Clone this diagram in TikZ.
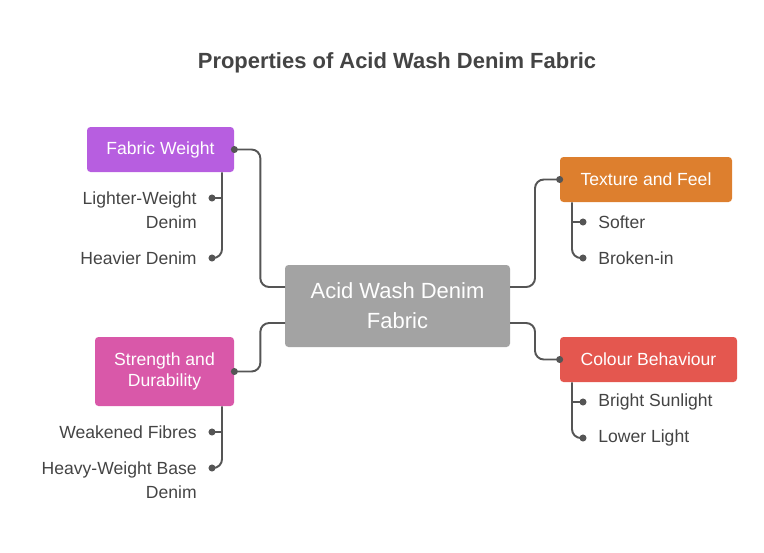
\documentclass[tikz,border=0pt]{standalone}
\usepackage{fontspec}
\setmainfont{Liberation Sans}
\usetikzlibrary{positioning, calc}

\definecolor{txtgray}{HTML}{444444}
\definecolor{linegray}{HTML}{555555}
\definecolor{hubgray}{HTML}{A3A3A3}
\definecolor{weightpurple}{HTML}{B75EE0}
\definecolor{strengthpink}{HTML}{D958A9}
\definecolor{textureorange}{HTML}{DD7F2E}
\definecolor{colourred}{HTML}{E4574F}

\tikzset{
  topic/.style={rounded corners=2pt, text=white, font=\fontsize{10}{12}\selectfont, align=center, inner sep=0pt},
  item/.style={text=txtgray, font=\fontsize{10}{13.5}\selectfont, inner sep=0pt},
  link/.style={draw=linegray, line width=1.1pt, rounded corners=5pt},
  dot/.style={circle, fill=linegray, inner sep=0pt, minimum size=4pt}
}

\begin{document}
\begin{tikzpicture}[x=0.02cm, y=-0.02cm]
\useasboundingbox (0,0) rectangle (764,552);

\node[text=txtgray, font=\bfseries\fontsize{12.5}{15}\selectfont] (title) at (397,63) {Properties of Acid Wash Denim Fabric};

% hub
\node[topic, fill=hubgray, minimum width=225\pgflinewidth, font=\fontsize{12.5}{17}\selectfont] (hub) at (397.5,306) {};
\fill[hubgray, rounded corners=2pt] (285,265) rectangle (510,347);
\node[text=white, font=\fontsize{12.5}{17}\selectfont, align=center] (hubtxt) at (397.5,306) {Acid Wash Denim\\Fabric};
\coordinate (hubW) at (285,306);
\coordinate (hubE) at (510,306);

% topics
\node[topic, fill=weightpurple, minimum width=147*0.02cm, minimum height=45*0.02cm] (weight) at (160.5,149.5) {Fabric Weight};
\node[topic, fill=strengthpink, minimum width=139*0.02cm, minimum height=69*0.02cm] (strength) at (164.5,371.5) {Strength and\\Durability};
\node[topic, fill=textureorange, minimum width=172*0.02cm, minimum height=45*0.02cm] (texture) at (646,179.5) {Texture and Feel};
\node[topic, fill=colourred, minimum width=177*0.02cm, minimum height=45*0.02cm] (colour) at (648.5,359.5) {Colour Behaviour};

% items
\node[item, anchor=east, align=right] (light) at (197,210) {Lighter-Weight\\Denim};
\node[item, anchor=east] (heavy) at (197,258) {Heavier Denim};
\node[item, anchor=east] (weak) at (197,432) {Weakened Fibres};
\node[item, anchor=east, align=right] (base) at (197,480) {Heavy-Weight Base\\Denim};
\node[item, anchor=west] (soft) at (598,222) {Softer};
\node[item, anchor=west] (broken) at (598,258) {Broken-in};
\node[item, anchor=west] (bright) at (598,402) {Bright Sunlight};
\node[item, anchor=west] (lower) at (598,438) {Lower Light};

% hub connectors
\draw[link] (weight.east) -- ++(26,0) |- ($(hubW)+(0,-19)$);
\draw[link] (strength.east) -- ++(26,0) |- ($(hubW)+(0,17)$);
\draw[link] ($(hubE)+(0,-19)$) -- ++(25,0) |- (texture.west);
\draw[link] ($(hubE)+(0,17)$) -- ++(25,0) |- (colour.west);
\node[dot] at (weight.east) {};
\node[dot] at (strength.east) {};
\node[dot] at (texture.west) {};
\node[dot] at (colour.west) {};

% item connectors
\draw[link] (weight.south -| 222,0) |- ($(heavy.east)+(15,0)$);
\draw[link] ($(light.east)+(15,-12)$) -- (222,198);
\draw[link] (strength.south -| 222,0) |- ($(base.east)+(15,-12)$);
\draw[link] ($(weak.east)+(15,0)$) -- (222,432);
\draw[link] (texture.south -| 572,0) |- ($(broken.west)+(-15,0)$);
\draw[link] ($(soft.west)+(-15,0)$) -- (572,222);
\draw[link] (colour.south -| 572,0) |- ($(lower.west)+(-15,0)$);
\draw[link] ($(bright.west)+(-15,0)$) -- (572,402);
\foreach \p in {{212,198},{212,258},{212,432},{212,468},{583,222},{583,258},{583,402},{583,438}}
  \node[dot] at (\p) {};
\end{tikzpicture}
\end{document}
